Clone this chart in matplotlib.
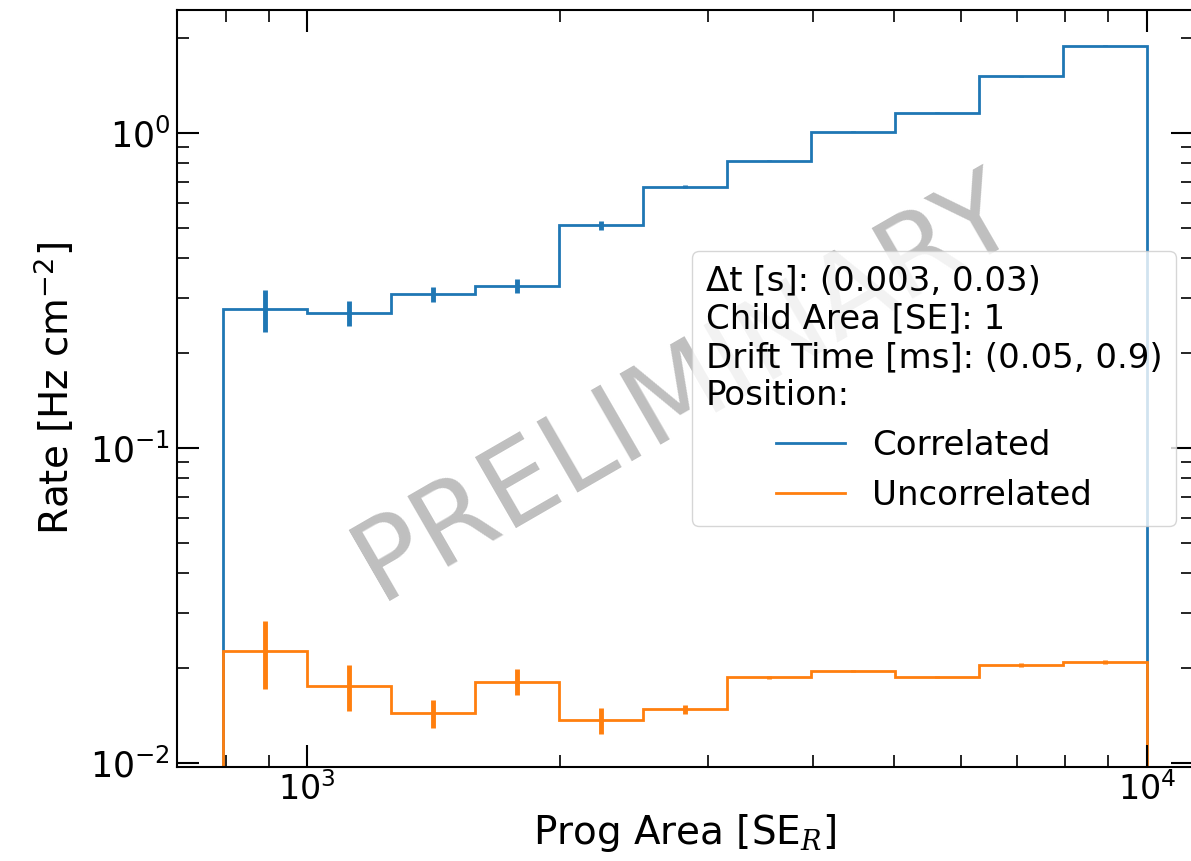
import numpy as np
import matplotlib
matplotlib.use("Agg")
import matplotlib.pyplot as plt
from matplotlib.ticker import NullFormatter

# bin edges of prog area [SE_R], log spaced 10^2.9 .. 10^4
edges = [794.3, 1000.0, 1258.9, 1584.9, 1995.3, 2511.9, 3162.3, 3981.1, 5011.9, 6309.6, 7943.3, 10000.0]

corr_rate = [0.276, 0.268, 0.308, 0.327, 0.510, 0.674, 0.817, 1.01, 1.16, 1.51, 1.89]
corr_err = [0.042, 0.025, 0.017, 0.016, 0.017, 0.007, 0.004, 0.004, 0.004, 0.004, 0.004]

uncorr_rate = [0.0227, 0.01756, 0.01438, 0.01813, 0.01369, 0.01481, 0.01873, 0.0196, 0.01876, 0.02052, 0.02093]
uncorr_err = [0.0055, 0.0029, 0.0015, 0.0017, 0.0013, 0.0005, 0.0002, 0.0001, 0.0001, 0.0003, 0.0003]

legend_title = ("Δt [s]: (0.003, 0.03)\n"
                "Child Area [SE]: 1\n"
                "Drift Time [ms]: (0.05, 0.9)\n"
                "Position:")


def main():
    W, H = 1191, 861
    fig = plt.figure(figsize=(W / 100, H / 100), dpi=100)
    ax = fig.add_axes([177 / W, (H - 767) / H, (1193 - 177) / W, (767 - 10) / H])

    e = np.array(edges)
    centers = np.sqrt(e[:-1] * e[1:])

    ax.stairs(corr_rate, e, baseline=1e-5, color="tab:blue", lw=2, label="Correlated")
    ax.errorbar(centers, corr_rate, yerr=corr_err, fmt="none", ecolor="tab:blue", elinewidth=3.5)
    ax.stairs(uncorr_rate, e, baseline=1e-5, color="tab:orange", lw=2, label="Uncorrelated")
    ax.errorbar(centers, uncorr_rate, yerr=uncorr_err, fmt="none", ecolor="tab:orange", elinewidth=3.5)

    ax.set_xscale("log")
    ax.set_yscale("log")
    ax.set_xlim(10 ** 2.845, 10 ** 4.055)
    ax.set_ylim(10 ** -2.0127, 10 ** 0.39)

    ax.set_xlabel("Prog Area [SE$_R$]", fontsize=28, math_fontfamily="dejavuserif")
    ax.set_ylabel("Rate [Hz cm$^{-2}$]", fontsize=28, labelpad=9)

    ax.tick_params(which="both", direction="in", top=True, right=True, labelsize=24)
    ax.tick_params(axis="y", which="major", pad=5, labelsize=25)
    ax.tick_params(which="major", length=16, width=1.5)
    ax.tick_params(which="minor", length=8.5, width=1.2)
    ax.xaxis.set_minor_formatter(NullFormatter())
    ax.yaxis.set_minor_formatter(NullFormatter())
    for s in ax.spines.values():
        s.set_linewidth(1.5)

    ax.text(0.5, 0.5, "PRELIMINARY", transform=ax.transAxes, fontsize=81,
            color="gray", alpha=0.5, rotation=30, ha="center", va="center")

    ax.legend(title=legend_title, loc="center right", fontsize=24.5, title_fontsize=24.5)

    fig.savefig("out.png", dpi=100)


if __name__ == "__main__":
    main()
